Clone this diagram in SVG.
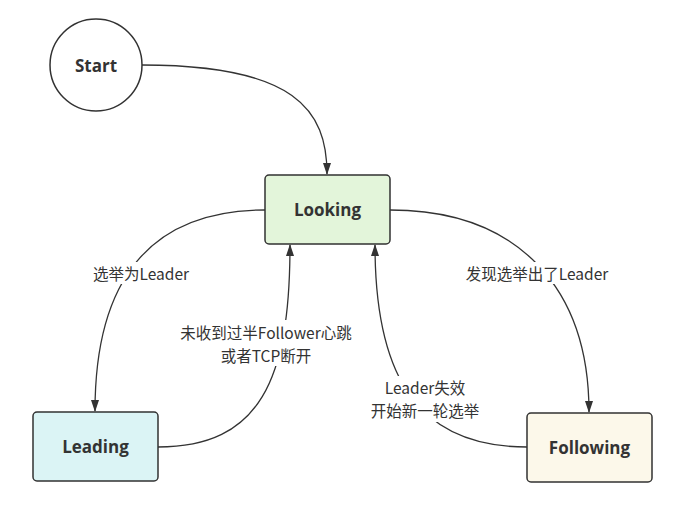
<svg xmlns="http://www.w3.org/2000/svg" width="691" height="517" viewBox="0 0 691 517">
<style>
.node{stroke:#323232;stroke-width:1.5}
.title{font-family:"Open Sans","Noto Sans",sans-serif;font-weight:bold;font-size:17px;fill:#333;text-anchor:middle;dominant-baseline:central}
.lbl{font-family:"Noto Sans CJK SC","Noto Sans",sans-serif;font-size:15.5px;fill:#333;text-anchor:middle;dominant-baseline:central}
.edge{fill:none;stroke:#333;stroke-width:1.3}
.bg{fill:#fff}
</style>
<defs>
<marker id="arr" viewBox="0 0 12 8" refX="11" refY="4" markerWidth="12" markerHeight="8" markerUnits="userSpaceOnUse" orient="auto">
<path d="M0,0 L12,4 L0,8 Z" fill="#333"/>
</marker>
</defs>
<rect width="691" height="517" fill="#fff"/>
<g id="connectors">
<path class="edge" d="M142,65 C295,65 327,110 327,174" marker-end="url(#arr)"/>
<path class="edge" d="M265,210 C150,210 95,280 95,411" marker-end="url(#arr)"/>
<path class="edge" d="M158,447 C260,447 290,380 290,245" marker-end="url(#arr)"/>
<path class="edge" d="M390,210 C520,210 589,290 589,412" marker-end="url(#arr)"/>
<path class="edge" d="M527,447 C420,447 375,380 375,245" marker-end="url(#arr)"/>
<rect class="bg" x="84" y="262" width="114" height="22"/>
<text class="lbl" x="141" y="273">选举为Leader</text>
<rect class="bg" x="178" y="320" width="176" height="46"/>
<text class="lbl" x="266" y="332">未收到过半Follower心跳</text>
<text class="lbl" x="266" y="355">或者TCP断开</text>
<rect class="bg" x="456" y="262" width="162" height="22"/>
<text class="lbl" x="537" y="273">发现选举出了Leader</text>
<rect class="bg" x="362" y="376" width="126" height="46"/>
<text class="lbl" x="425" y="387">Leader失效</text>
<text class="lbl" x="425" y="410">开始新一轮选举</text>
</g>
<g id="start">
<circle class="node" cx="96" cy="65" r="46" fill="#fff"/>
<text class="title" x="96" y="65">Start</text>
</g>
<g id="looking">
<rect class="node" x="265" y="175" width="125" height="69" rx="4" fill="#e3f5da"/>
<text class="title" x="327.5" y="209.5">Looking</text>
</g>
<g id="leading">
<rect class="node" x="33" y="412" width="125" height="69" rx="4" fill="#dbf4f5"/>
<text class="title" x="95.5" y="446.5">Leading</text>
</g>
<g id="following">
<rect class="node" x="527" y="413" width="125" height="69" rx="4" fill="#fcf8ea"/>
<text class="title" x="589.5" y="447.5">Following</text>
</g>
</svg>
